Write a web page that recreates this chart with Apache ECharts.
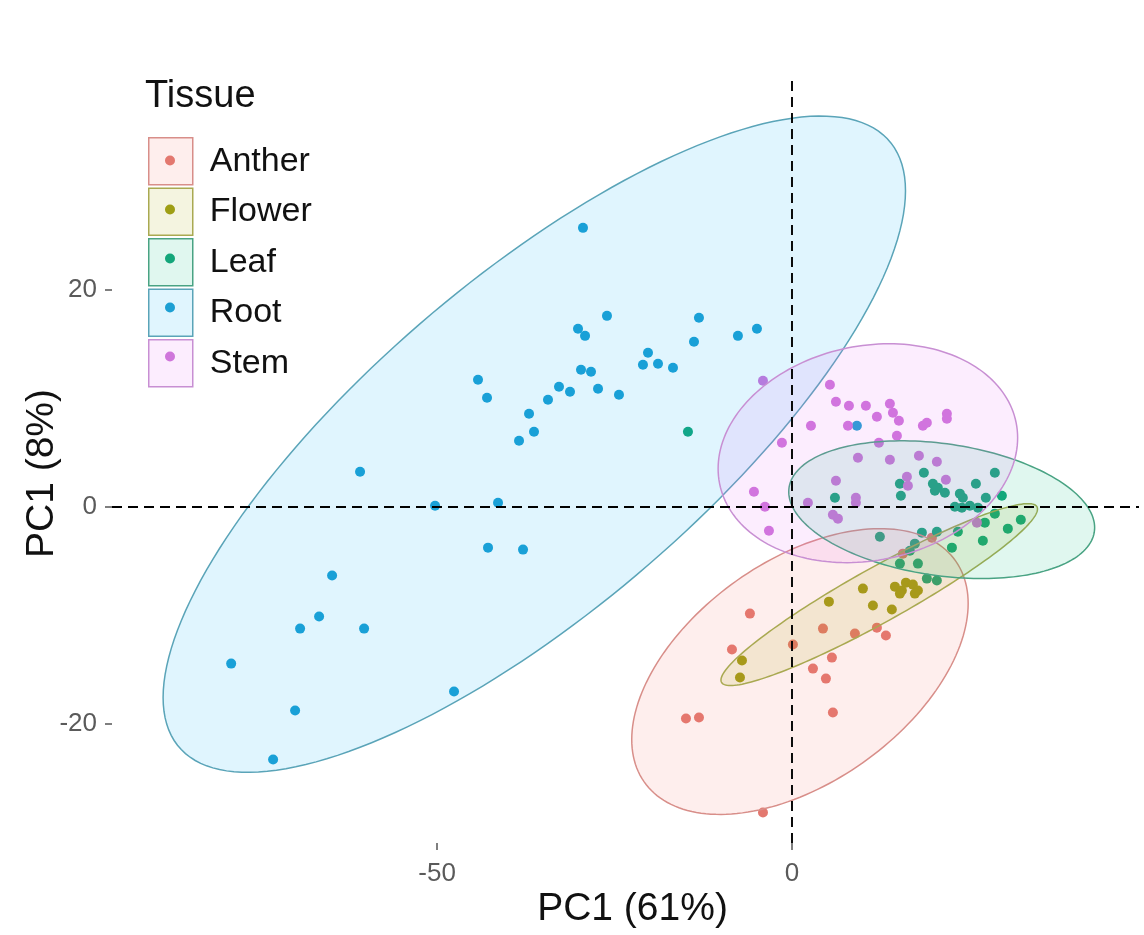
<!DOCTYPE html>
<html>
<head>
<meta charset="utf-8">
<script src="https://cdn.jsdelivr.net/npm/echarts@6/dist/echarts.min.js"></script>
<style>
  html, body { margin: 0; padding: 0; background: #ffffff; }
  #chart { width: 1144px; height: 935px; }
</style>
</head>
<body>
<div id="chart"></div>
<script>
// ---- PCA scores per tissue: [PC1, PC2] ----
const tissues = ['Anther', 'Flower', 'Leaf', 'Root', 'Stem'];

const antherPoints = [
  [-5.92, -9.84], [-8.45, -13.15], [0.14, -12.69], [4.37, -11.22], [5.63, -13.89],
  [2.96, -14.90], [4.79, -15.82], [8.87, -11.68], [11.97, -11.13], [13.24, -11.86],
  [5.77, -18.94], [-14.93, -19.49], [-13.10, -19.40], [-4.08, -28.14], [19.72, -2.85],
  [15.63, -4.32]
];

const flowerPoints = [
  [5.21, -8.74], [10.00, -7.54], [11.41, -9.10], [14.08, -9.47], [14.51, -7.36],
  [15.49, -7.72], [16.06, -6.99], [17.04, -7.17], [17.75, -7.72], [15.21, -8.00],
  [17.32, -8.00], [-7.04, -14.16], [-7.32, -15.72]
];

const leafPoints = [
  [-14.65, 6.90], [6.06, 0.83], [18.59, 3.13], [28.59, 3.13], [15.21, 2.11],
  [25.92, 2.11], [19.86, 2.11], [20.56, 1.75], [21.55, 1.29], [20.14, 1.47],
  [15.35, 1.01], [23.66, 1.20], [24.08, 0.83], [27.32, 0.83], [29.58, 1.01],
  [22.96, 0.00], [23.94, -0.09], [25.07, 0.09], [26.20, -0.09], [28.59, -0.64],
  [32.25, -1.20], [30.42, -2.02], [27.18, -1.47], [12.39, -2.76], [18.31, -2.39],
  [20.42, -2.30], [23.38, -2.30], [26.90, -3.13], [22.54, -3.77], [17.32, -3.40],
  [16.62, -4.05], [15.21, -5.24], [17.75, -5.24], [19.01, -6.62], [20.42, -6.80]
];

const rootPoints = [
  [-29.44, 25.66], [-26.06, 17.56], [-30.14, 16.37], [-29.15, 15.72], [-13.10, 17.38],
  [-13.80, 15.17], [-7.61, 15.72], [-4.93, 16.37], [-20.28, 14.16], [-20.99, 13.06],
  [-18.87, 13.15], [-16.76, 12.78], [-29.72, 12.60], [-28.31, 12.41], [-27.32, 10.85],
  [-24.37, 10.30], [-32.82, 11.03], [-31.27, 10.57], [-34.37, 9.84], [-44.23, 11.68],
  [-42.96, 10.02], [-37.04, 8.55], [-36.34, 6.90], [-38.45, 6.07], [-41.41, 0.37],
  [-50.28, 0.09], [-60.85, 3.22], [-42.82, -3.77], [-37.89, -3.95], [-64.79, -6.34],
  [-66.62, -10.11], [-69.30, -11.22], [-60.28, -11.22], [-79.01, -14.44], [-47.61, -17.01],
  [-70.00, -18.76], [-73.10, -23.26], [9.15, 7.45]
];

const stemPoints = [
  [-4.08, 11.59], [5.35, 11.22], [6.20, 9.66], [8.03, 9.29], [10.42, 9.29],
  [13.80, 9.47], [14.23, 8.64], [11.97, 8.28], [15.07, 7.91], [2.68, 7.45],
  [7.89, 7.45], [18.45, 7.45], [19.01, 7.72], [21.83, 8.55], [21.83, 8.09],
  [14.79, 6.53], [-1.41, 5.89], [12.25, 5.89], [9.30, 4.51], [13.80, 4.32],
  [17.89, 4.69], [20.42, 4.14], [6.20, 2.39], [16.20, 2.76], [16.34, 1.93],
  [21.69, 2.48], [-5.35, 1.38], [9.01, 0.83], [9.01, 0.37], [2.25, 0.37],
  [-3.80, 0.00], [-3.24, -2.21], [5.77, -0.74], [6.48, -1.10], [26.06, -1.47]
];

// ---- 95% ellipses: [centre PC1, centre PC2, half-range PC1, half-range PC2, cos(phase)] ----
const ellipseAnther = [1.13, -15.17, 23.7, 13.15, 0.476];
const ellipseFlower = [12.3, -8.09, 22.3, 8.37, 0.94];
const ellipseLeaf   = [21.1, -0.28, 21.55, 6.34, -0.26];
const ellipseRoot   = [-36.3, 5.75, 52.3, 30.2, 0.772];
const ellipseStem   = [10.7, 4.92, 21.1, 10.07, 0.141];

// ---- axis breaks ----
const xTicks = [-50, 0];
const yTicks = [-20, 0, 20];

// ---- styling ----
const baseColors    = { Anther: '#F8766D', Flower: '#A3A500', Leaf: '#00BF7D', Root: '#00B0F6', Stem: '#E76BF3' };
const pointColors   = { Anther: '#e3786f', Flower: '#9e9e14', Leaf: '#14a67a', Root: '#1d9fd3', Stem: '#cf76db' };
const outlineColors = { Anther: '#d88e89', Flower: '#a9a951', Leaf: '#49a383', Root: '#5aa4b8', Stem: '#c88fd3' };

function tint(hex, a) {
  const n = parseInt(hex.slice(1), 16);
  return 'rgba(' + ((n >> 16) & 255) + ',' + ((n >> 8) & 255) + ',' + (n & 255) + ',' + a + ')';
}

const pointsByTissue = { Anther: antherPoints, Flower: flowerPoints, Leaf: leafPoints, Root: rootPoints, Stem: stemPoints };
const ellipseByTissue = { Anther: ellipseAnther, Flower: ellipseFlower, Leaf: ellipseLeaf, Root: ellipseRoot, Stem: ellipseStem };

const FONT = '"Liberation Sans", Arial, Helvetica, sans-serif';

function ellipseRenderer(name) {
  return function (params, api) {
    const cx = api.value(0), cy = api.value(1), ax = api.value(2), ay = api.value(3), c = api.value(4);
    const s = Math.sqrt(1 - c * c);
    const pts = [];
    const n = 180;
    for (let i = 0; i < n; i++) {
      const t = 2 * Math.PI * i / n;
      pts.push(api.coord([cx + ax * Math.cos(t), cy + ay * (Math.cos(t) * c - Math.sin(t) * s)]));
    }
    return {
      type: 'polygon',
      shape: { points: pts },
      style: { fill: tint(baseColors[name], 0.12), stroke: outlineColors[name], lineWidth: 1.5 }
    };
  };
}

const series = [];
tissues.forEach(function (name) {
  series.push({
    name: name,
    type: 'scatter',
    data: pointsByTissue[name],
    symbol: 'circle',
    symbolSize: 10,
    itemStyle: { color: pointColors[name], opacity: 1 },
    z: 2,
    silent: true,
    animation: false
  });
});
tissues.forEach(function (name) {
  series.push({
    name: name,
    type: 'custom',
    data: [ellipseByTissue[name]],
    encode: { x: 0, y: 1 },
    renderItem: ellipseRenderer(name),
    z: 3,
    silent: true,
    animation: false
  });
});
// zero reference lines
series.push({
  name: 'zero',
  type: 'scatter',
  data: [],
  z: 6,
  silent: true,
  markLine: {
    silent: true,
    symbol: ['none', 'none'],
    label: { show: false },
    animation: false,
    lineStyle: { color: '#000000', width: 1.9, type: [10, 6] },
    emphasis: { disabled: true },
    data: [{ xAxis: 0 }, { yAxis: 0 }]
  }
});

const option = {
  backgroundColor: '#ffffff',
  animation: false,
  title: {
    text: 'Tissue',
    left: 145,
    top: 78,
    padding: 0,
    textStyle: { fontFamily: FONT, fontSize: 38, fontWeight: 'normal', color: '#111111' }
  },
  legend: [
    {
      orient: 'vertical',
      left: 148,
      top: 137,
      padding: 0,
      itemWidth: 44,
      itemHeight: 47,
      itemGap: 2,
      icon: 'rect',
      selectedMode: false,
      textStyle: { fontFamily: FONT, fontSize: 34, color: '#111111', lineHeight: 47, padding: [0, 0, 0, 12] },
      data: tissues.map(function (name) {
        return { name: name, itemStyle: { color: tint(baseColors[name], 0.12), borderColor: outlineColors[name], borderWidth: 1.5 } };
      })
    },
    {
      orient: 'vertical',
      left: 165,
      top: 137,
      padding: 0,
      itemWidth: 10,
      itemHeight: 10,
      itemGap: 2,
      icon: 'circle',
      selectedMode: false,
      textStyle: { fontFamily: FONT, fontSize: 34, color: 'rgba(0,0,0,0)', lineHeight: 47, padding: [0, 0, 0, 12] },
      data: tissues.map(function (name) {
        return { name: name, itemStyle: { color: pointColors[name], borderWidth: 0 } };
      })
    }
  ],
  grid: { left: 112, right: 5, top: 78, bottom: 92, containLabel: false },
  xAxis: {
    type: 'value',
    min: -95.8,
    max: 48.9,
    name: 'PC1 (61%)',
    nameLocation: 'middle',
    nameGap: 47,
    nameMoveOverlap: false,
    nameTextStyle: { fontFamily: FONT, fontSize: 39, color: '#111111', padding: [0, 0, 0, 14] },
    axisLine: { show: false, onZero: false },
    splitLine: { show: false },
    axisTick: { show: true, customValues: xTicks, length: 7, lineStyle: { color: '#555555', width: 1.5 } },
    axisLabel: { customValues: xTicks, margin: 18, fontFamily: FONT, fontSize: 26, color: '#5a5a5a' }
  },
  yAxis: {
    type: 'value',
    min: -30.95,
    max: 39.45,
    name: 'PC1 (8%)',
    nameLocation: 'middle',
    nameGap: 50,
    nameRotate: 90,
    nameMoveOverlap: false,
    nameTextStyle: { fontFamily: FONT, fontSize: 39, color: '#111111', padding: [0, 26, 0, 0] },
    axisLine: { show: false, onZero: false },
    splitLine: { show: false },
    axisTick: { show: true, customValues: yTicks, length: 7, lineStyle: { color: '#555555', width: 1.5 } },
    axisLabel: { customValues: yTicks, margin: 15, fontFamily: FONT, fontSize: 26, color: '#5a5a5a' }
  },
  series: series
};

const chart = echarts.init(document.getElementById('chart'), null, { renderer: 'canvas' });
chart.setOption(option);
</script>
</body>
</html>
